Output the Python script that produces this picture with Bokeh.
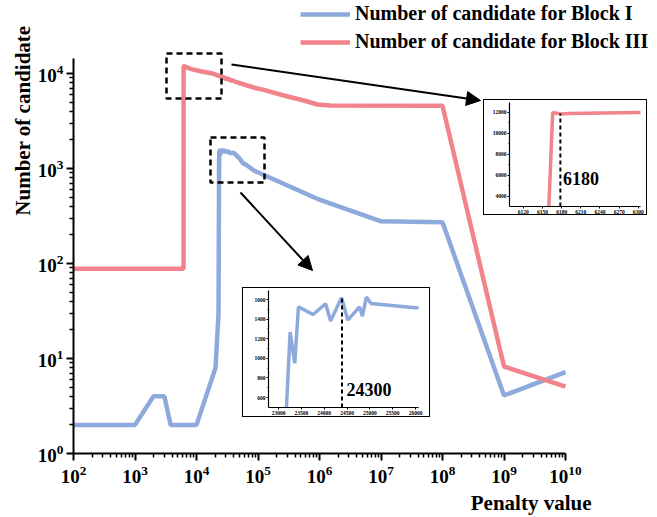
import math
from bokeh.plotting import figure
from bokeh.models import (Range1d, FixedTicker, LogTickFormatter, Label, Legend, LegendItem,
                          Arrow, NormalHead, BoxAnnotation, Column, Title)
from bokeh.embed import file_html
from bokeh.resources import INLINE

# ---------------- data ----------------
blue_x = [100, 1000, 2000, 3000, 3800, 10000, 20400, 22800, 23174, 23254, 23356, 23436, 23755,
          24031, 24140, 24380, 24518, 24772, 24837, 24924, 25026, 25990, 28000, 30000, 32000,
          35000, 40400, 50000, 56000, 66700, 85500, 916000, 9.8e6, 1e8, 1e9, 1e10]
blue_y = [2, 2, 4, 4, 2, 2, 8, 30, 498, 1268, 949, 1525, 1447,
          1556, 1380, 1617, 1390, 1525, 1430, 1624, 1560, 1515, 1560, 1480, 1530,
          1450, 1462, 1280, 1150, 1076, 952, 480, 279, 272, 4.08, 7.17]

red_x = [100, 6158, 6166, 6180, 6190, 6300, 7980, 11600, 19100, 24550, 28000, 30000, 32000,
         35700, 38000, 45000, 66700, 98000, 124000, 263000, 556000, 927000, 1.5e6, 1e8, 1e9, 1e10]
red_y = [88, 88, 11950, 11800, 11850, 11950, 11200, 10570, 9930, 9300, 9100, 8700, 8900,
         8430, 8500, 8100, 7480, 6950, 6730, 5870, 5200, 4720, 4600, 4580, 8.24, 5.07]

series_names = ["Number of candidate for Block I", "Number of candidate for Block III"]
x_title = "Penalty value"
y_title = "Number of candidate"

x_major = [10 ** e for e in range(2, 11)]
y_major = [10 ** e for e in range(0, 5)]

inset1_xticks = [6120, 6150, 6180, 6210, 6240, 6270, 6300]
inset1_yticks = [4000, 6000, 8000, 10000, 12000]
inset2_xticks = [23000, 23500, 24000, 24500, 25000, 25500, 26000]
inset2_yticks = [600, 800, 1000, 1200, 1400, 1600]

marker_x = [6178, 24390]
marker_top = [11850, 1617]
marker_labels = ["6180", "24300"]

BLUE = "#8EA9DB"
RED = "#F0838B"
FONT = "Liberation Serif"

# ---------------- main figure ----------------
X_DEC = 61.5   # px per decade
Y_DEC = 95.0
W, H = 657, 517
LEFT, BOTTOM = 73, 64
x_end = 10 ** (2 + (W - LEFT) / X_DEC)
y_end = 10 ** ((H - BOTTOM) / Y_DEC)

p = figure(width=W, height=H, x_axis_type="log", y_axis_type="log",
           x_range=Range1d(100, x_end), y_range=Range1d(1, y_end),
           output_backend="svg", toolbar_location=None,
           min_border=0, min_border_left=LEFT, min_border_bottom=BOTTOM,
           min_border_top=0, min_border_right=0, frame_align=False,
           outline_line_color=None, background_fill_color="white", border_fill_color="white")
p.grid.visible = False

minor_x = [m * 10 ** e for e in range(2, 10) for m in range(2, 10)]
minor_y = [m * 10 ** e for e in range(0, 4) for m in range(2, 10)]
p.xaxis.ticker = FixedTicker(ticks=x_major, minor_ticks=minor_x)
p.yaxis.ticker = FixedTicker(ticks=y_major, minor_ticks=minor_y)
p.xaxis.formatter = LogTickFormatter()
p.yaxis.formatter = LogTickFormatter()
p.xaxis.bounds = (1e2, 1e10)
p.yaxis.bounds = (1, 10 ** 4.158)
for ax in (p.xaxis, p.yaxis):
    ax.axis_line_width = 2
    ax.major_tick_line_width = 2
    ax.minor_tick_line_width = 1.5
    ax.major_tick_out = 7
    ax.major_tick_in = 0
    ax.minor_tick_out = 4
    ax.minor_tick_in = 0
    ax.major_label_text_font = FONT
    ax.major_label_text_font_style = "bold"
    ax.major_label_text_font_size = "19px"
    ax.major_label_text_color = "black"
p.xaxis.major_label_standoff = 5
p.yaxis.major_label_standoff = 3

rb = p.line(blue_x, blue_y, line_color=BLUE, line_width=4.5)
rr = p.line(red_x, red_y, line_color=RED, line_width=4.5)

legend = Legend(items=[LegendItem(label=series_names[0], renderers=[rb]),
                       LegendItem(label=series_names[1], renderers=[rr])],
                location=(227, 400), orientation="vertical",
                background_fill_alpha=0, border_line_color=None, padding=0, margin=0,
                spacing=5, glyph_width=50, glyph_height=22, label_height=22, label_standoff=5,
                label_text_font=FONT, label_text_font_style="bold", label_text_font_size="20px",
                label_text_color="black")
p.add_layout(legend)

p.add_layout(Title(text=x_title, align="right", offset=66, standoff=6, text_font=FONT,
                   text_font_style="bold", text_font_size="21px", text_color="black"), "below")
p.add_layout(Title(text=y_title, align="right", offset=25, standoff=0, text_font=FONT,
                   text_font_style="bold", text_font_size="21px", text_color="black"), "left")


def lx(px):
    return 10 ** (2 + (px - LEFT) / X_DEC)

def ly(py):
    return 10 ** ((H - BOTTOM - py) / Y_DEC)

# zoom boxes
for (l, r, t, b) in [(166, 221, 53, 98), (210, 264, 137, 182)]:
    p.add_layout(BoxAnnotation(left=lx(l), right=lx(r), top=ly(t), bottom=ly(b),
                               fill_color=None, fill_alpha=0, line_color="black",
                               line_alpha=1, line_width=2.5, line_dash="6 4"))
# arrows
for (x0, y0, x1, y1) in [(231, 64, 480, 100), (240, 192, 312, 270)]:
    p.add_layout(Arrow(x_start=lx(x0), y_start=ly(y0), x_end=lx(x1), y_end=ly(y1),
                       line_width=2, line_color="black",
                       end=NormalHead(size=14, fill_color="black", line_color="black")))


def make_inset(xr, yr, xt, yt, width, height, left, right, top, bottom, pos):
    f = figure(width=width, height=height, x_range=Range1d(*xr), y_range=Range1d(*yr),
               output_backend="svg", toolbar_location=None,
               min_border=0, min_border_left=left, min_border_right=right,
               min_border_top=top, min_border_bottom=bottom, frame_align=False,
               outline_line_color=None, background_fill_color="white",
               border_fill_color="white",
               styles={"position": "absolute", "left": f"{pos[0]}px", "top": f"{pos[1]}px",
                       "border": "1.5px solid black"})
    f.grid.visible = False
    f.xaxis.ticker = FixedTicker(ticks=xt)
    f.yaxis.ticker = FixedTicker(ticks=yt, minor_ticks=[v + (yt[1] - yt[0]) / 2 for v in yt])
    for ax in (f.xaxis, f.yaxis):
        ax.axis_line_width = 1.2
        ax.major_tick_line_width = 1
        ax.minor_tick_line_width = 1
        ax.major_tick_out = 2
        ax.major_tick_in = 0
        ax.minor_tick_out = 1
        ax.minor_tick_in = 0
        ax.major_label_standoff = 1
        ax.major_label_text_font = FONT
        ax.major_label_text_font_style = "bold"
        ax.major_label_text_font_size = "5.5px"
        ax.major_label_text_color = "black"
    return f

inset1 = make_inset((6098.4, 6303.4), (3000, 12905), inset1_xticks, inset1_yticks,
                    164, 116, 25, 8, 2, 10, (483, 99))
inset1.line(red_x, red_y, line_color=RED, line_width=3.5)
inset1.segment(x0=[marker_x[0]], y0=[3000], x1=[marker_x[0]], y1=[marker_top[0]],
               line_color="black", line_width=2, line_dash="4 3")
inset1.add_layout(Label(x=6182, y=5620, text=marker_labels[0], text_font=FONT,
                        text_font_style="bold", text_font_size="18px", text_color="black",
                        text_baseline="middle", text_align="left"))

inset2 = make_inset((22781, 26065), (498, 1692), inset2_xticks, inset2_yticks,
                    188, 130, 25, 13, 2, 11, (242, 287))
inset2.line(blue_x, blue_y, line_color=BLUE, line_width=3.5)
inset2.segment(x0=[marker_x[1]], y0=[498], x1=[marker_x[1]], y1=[marker_top[1]],
               line_color="black", line_width=2, line_dash="4 3")
inset2.add_layout(Label(x=24489, y=680, text=marker_labels[1], text_font=FONT,
                        text_font_style="bold", text_font_size="18px", text_color="black",
                        text_baseline="middle", text_align="left"))

layout = Column(p, inset1, inset2)
open("out.html", "w").write(file_html(layout, INLINE))
